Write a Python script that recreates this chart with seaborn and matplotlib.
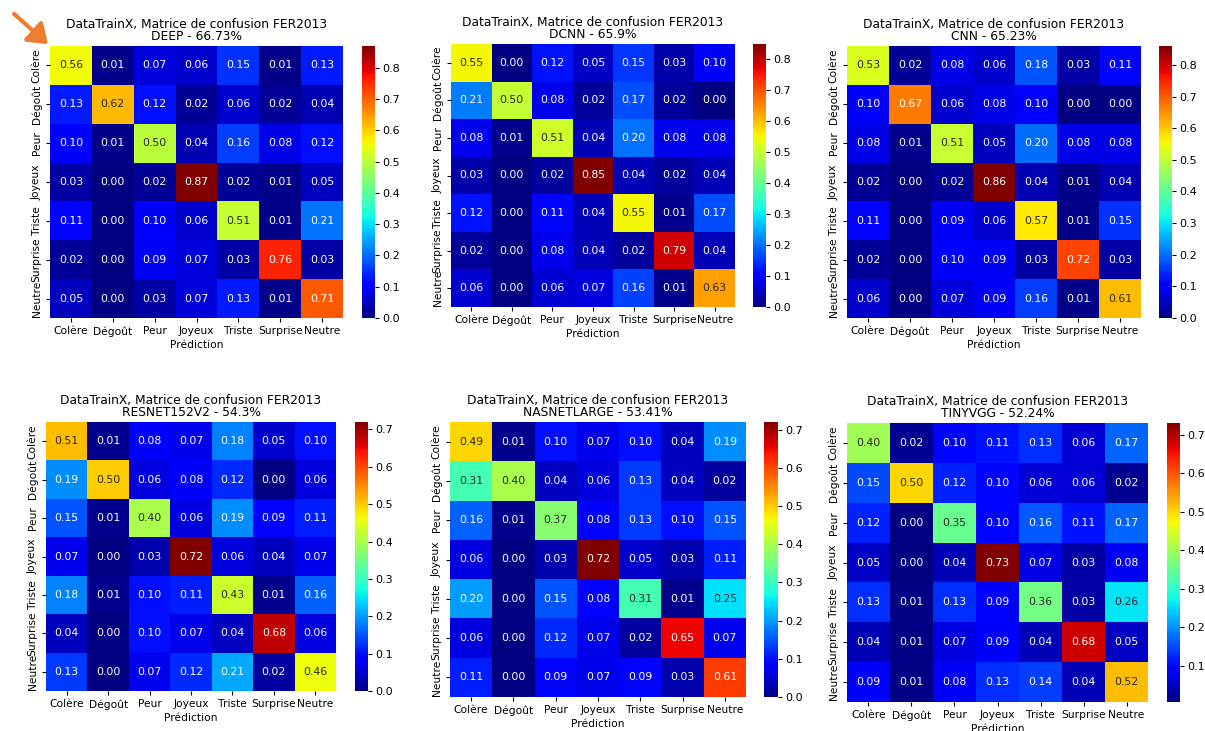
import numpy as np
import matplotlib
matplotlib.use("Agg")
import matplotlib.pyplot as plt
import seaborn as sns

# Classes (lignes = vraie classe, colonnes = prédiction)
classes = ['Colère', 'Dégoût', 'Peur', 'Joyeux', 'Triste', 'Surprise', 'Neutre']

deep = [
    [0.56, 0.01, 0.07, 0.06, 0.15, 0.01, 0.13],
    [0.13, 0.62, 0.12, 0.02, 0.06, 0.02, 0.04],
    [0.10, 0.01, 0.50, 0.04, 0.16, 0.08, 0.12],
    [0.03, 0.00, 0.02, 0.87, 0.02, 0.01, 0.05],
    [0.11, 0.00, 0.10, 0.06, 0.51, 0.01, 0.21],
    [0.02, 0.00, 0.09, 0.07, 0.03, 0.76, 0.03],
    [0.05, 0.00, 0.03, 0.07, 0.13, 0.01, 0.71],
]
dcnn = [
    [0.55, 0.00, 0.12, 0.05, 0.15, 0.03, 0.10],
    [0.21, 0.50, 0.08, 0.02, 0.17, 0.02, 0.00],
    [0.08, 0.01, 0.51, 0.04, 0.20, 0.08, 0.08],
    [0.03, 0.00, 0.02, 0.85, 0.04, 0.02, 0.04],
    [0.12, 0.00, 0.11, 0.04, 0.55, 0.01, 0.17],
    [0.02, 0.00, 0.08, 0.04, 0.02, 0.79, 0.04],
    [0.06, 0.00, 0.06, 0.07, 0.16, 0.01, 0.63],
]
cnn = [
    [0.53, 0.02, 0.08, 0.06, 0.18, 0.03, 0.11],
    [0.10, 0.67, 0.06, 0.08, 0.10, 0.00, 0.00],
    [0.08, 0.01, 0.51, 0.05, 0.20, 0.08, 0.08],
    [0.02, 0.00, 0.02, 0.86, 0.04, 0.01, 0.04],
    [0.11, 0.00, 0.09, 0.06, 0.57, 0.01, 0.15],
    [0.02, 0.00, 0.10, 0.09, 0.03, 0.72, 0.03],
    [0.06, 0.00, 0.07, 0.09, 0.16, 0.01, 0.61],
]
resnet = [
    [0.51, 0.01, 0.08, 0.07, 0.18, 0.05, 0.10],
    [0.19, 0.50, 0.06, 0.08, 0.12, 0.00, 0.06],
    [0.15, 0.01, 0.40, 0.06, 0.19, 0.09, 0.11],
    [0.07, 0.00, 0.03, 0.72, 0.06, 0.04, 0.07],
    [0.18, 0.01, 0.10, 0.11, 0.43, 0.01, 0.16],
    [0.04, 0.00, 0.10, 0.07, 0.04, 0.68, 0.06],
    [0.13, 0.00, 0.07, 0.12, 0.21, 0.02, 0.46],
]
nasnet = [
    [0.49, 0.01, 0.10, 0.07, 0.10, 0.04, 0.19],
    [0.31, 0.40, 0.04, 0.06, 0.13, 0.04, 0.02],
    [0.16, 0.01, 0.37, 0.08, 0.13, 0.10, 0.15],
    [0.06, 0.00, 0.03, 0.72, 0.05, 0.03, 0.11],
    [0.20, 0.00, 0.15, 0.08, 0.31, 0.01, 0.25],
    [0.06, 0.00, 0.12, 0.07, 0.02, 0.65, 0.07],
    [0.11, 0.00, 0.09, 0.07, 0.09, 0.03, 0.61],
]
tinyvgg = [
    [0.40, 0.02, 0.10, 0.11, 0.13, 0.06, 0.17],
    [0.15, 0.50, 0.12, 0.10, 0.06, 0.06, 0.02],
    [0.12, 0.00, 0.35, 0.10, 0.16, 0.11, 0.17],
    [0.05, 0.00, 0.04, 0.73, 0.07, 0.03, 0.08],
    [0.13, 0.01, 0.13, 0.09, 0.36, 0.03, 0.26],
    [0.04, 0.01, 0.07, 0.09, 0.04, 0.68, 0.05],
    [0.09, 0.01, 0.08, 0.13, 0.14, 0.04, 0.52],
]

modeles = ['DEEP', 'DCNN', 'CNN', 'RESNET152V2', 'NASNETLARGE', 'TINYVGG']
precisions = ['66.73%', '65.9%', '65.23%', '54.3%', '53.41%', '52.24%']
matrices = [deep, dcnn, cnn, resnet, nasnet, tinyvgg]
vmins = [None, None, None, None, None, 0.006]

W, H = 1205, 731
# boites en pixels: (gauche, haut, droite, bas) heatmap, puis colorbar (gauche, droite)
boites = [
    (50, 46, 343, 318, 362, 375),
    (451, 44, 735, 307, 753, 766),
    (847, 46, 1141, 318, 1159, 1172),
    (46, 422, 336, 691, 355, 368),
    (450, 422, 746, 697, 764, 778),
    (847, 423, 1148, 702, 1167, 1180),
]

fig = plt.figure(figsize=(W / 100, H / 100), dpi=100)

for nom, prec, mat, vmin, b in zip(modeles, precisions, matrices, vmins, boites):
    l, t, r, bt, cl, cr = b
    ax = fig.add_axes([l / W, 1 - bt / H, (r - l) / W, (bt - t) / H])
    cax = fig.add_axes([cl / W, 1 - bt / H, (cr - cl) / W, (bt - t) / H])
    sns.heatmap(np.array(mat), annot=True, fmt=".2f", cmap="jet", vmin=vmin,
                xticklabels=classes, yticklabels=classes, ax=ax, cbar_ax=cax,
                annot_kws={"fontsize": 7.8})
    ax.set_title(f"DataTrainX, Matrice de confusion FER2013\n{nom} - {prec}",
                 fontsize=8.8, pad=4, linespacing=0.95)
    ax.set_xlabel("Prédiction", fontsize=7.7, labelpad=2)
    ax.tick_params(axis='both', labelsize=7.7, length=3, pad=3)
    plt.setp(ax.get_xticklabels(), rotation=0)
    plt.setp(ax.get_yticklabels(), rotation=90, va='center')
    cax.tick_params(labelsize=8, length=3, pad=2)

# flèche orange pointant sur la première cellule
fig.add_artist(matplotlib.patches.FancyArrowPatch(
    (12 / W, 1 - 12 / H), (50 / W, 1 - 46 / H), transform=fig.transFigure,
    arrowstyle='-|>,head_length=7,head_width=5', color='#ED7D31', lw=3,
    mutation_scale=1.6))

fig.savefig("out.png", dpi=100)
